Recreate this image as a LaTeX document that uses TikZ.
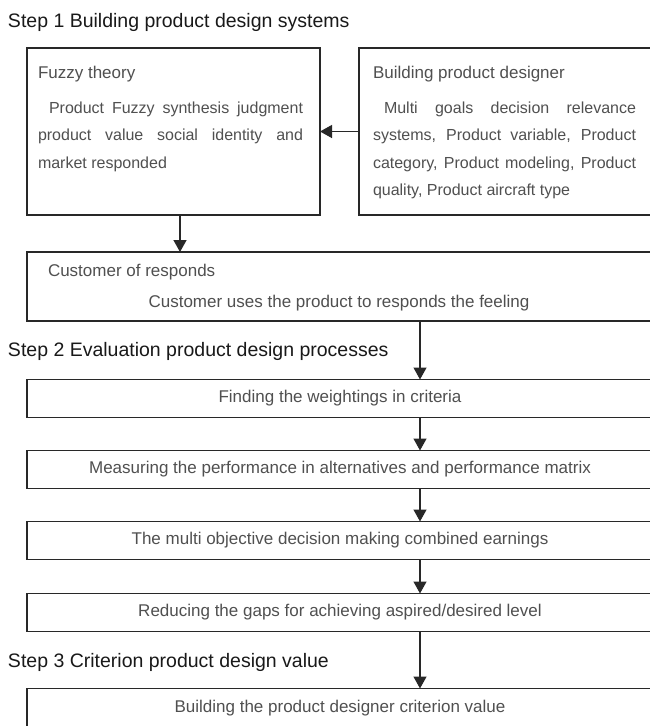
\documentclass[tikz,border=0pt]{standalone}
\usepackage{fontspec}
\setmainfont{Liberation Sans}
\usepackage{tikz}
\usetikzlibrary{arrows.meta, positioning}
\definecolor{lineGray}{RGB}{40, 40, 40}
\definecolor{textGray}{RGB}{80, 80, 80}

\begin{document}
\begin{tikzpicture}[
            x=1pt, y=-1pt,
            every node/.style={inner sep=0pt, outer sep=0pt},
            box/.style={rectangle, draw=lineGray, line width=1.4pt, fill=white},
            stage/.style={box, minimum width=626pt, minimum height=38pt, font=\fontsize{17}{20}\selectfont, text=textGray},
            stepTitle/.style={font=\fontsize{19.5}{24}\selectfont, text=black!90, anchor=base west},
            boxHead/.style={font=\fontsize{17}{20}\selectfont, text=textGray, anchor=base west},
            boxText/.style={font=\fontsize{16}{27.6}\selectfont, text=textGray, align=justify, anchor=base west},
            arrow/.style={-{Triangle[length=12pt, width=13pt]}, line width=1.3pt, draw=lineGray}
        ]
            \useasboundingbox (0,0) rectangle (650,726);
            \clip (0,0) rectangle (650,726);
            \fill[white] (0,0) rectangle (650,726);

            % step 1
            \node[stepTitle] (step1) at (8,27) {Step 1 Building product design systems};
            \node[box, minimum width=293pt, minimum height=167pt] (fuzzy) at (173.5,131.5) {};
            \node[box, minimum width=293pt, minimum height=167pt, right=39pt of fuzzy] (designer) {};
            \node[boxHead] (fuzzyHead) at (38,78) {Fuzzy theory};
            \node[boxText, text width=265pt] (fuzzyText) at (38,113) {\hspace*{11pt}Product Fuzzy synthesis judgment\linebreak product value social identity and\linebreak market responded};
            \node[boxHead] (designerHead) at (373,78) {Building product designer};
            \node[boxText, text width=263pt] (designerText) at (373,113) {\hspace*{11pt}Multi goals decision relevance\linebreak systems, Product variable, Product\linebreak category, Product modeling, Product\linebreak quality, Product aircraft type};
            \node[box, minimum width=626pt, minimum height=69pt] (cust) at (340,286.5) {};
            \node[boxHead] (custHead) at (48,276) {Customer of responds};
            \node[boxHead, anchor=base] (custText) at (339,307) {Customer uses the product to responds the feeling};

            % step 2
            \node[stepTitle] (step2) at (8,356) {Step 2 Evaluation product design processes};
            \node[stage] (find) at (340,398.5) {Finding the weightings in criteria};
            \node[stage, below=33pt of find] (meas) {Measuring the performance in alternatives and performance matrix};
            \node[stage, below=33pt of meas] (multi) {The multi objective decision making combined earnings};
            \node[stage, below=34pt of multi] (reduce) {Reducing the gaps for achieving aspired/desired level};

            % step 3
            \node[stepTitle] (step3) at (8,667) {Step 3 Criterion product design value};
            \node[stage, minimum height=40pt, below=57pt of reduce] (build) {Building the product designer criterion value};

            \coordinate (spine) at (420,0);
            \draw[arrow] (designer) -- (fuzzy);
            \draw[arrow] ([xshift=6.5pt]fuzzy.south) -- ([xshift=6.5pt]fuzzy.south |- cust.north);
            \draw[arrow] (cust.south -| spine) -- (find.north -| spine);
            \draw[arrow] (find.south -| spine) -- (meas.north -| spine);
            \draw[arrow] (meas.south -| spine) -- (multi.north -| spine);
            \draw[arrow] (multi.south -| spine) -- (reduce.north -| spine);
            \draw[arrow] (reduce.south -| spine) -- (build.north -| spine);
        \end{tikzpicture}
\end{document}
